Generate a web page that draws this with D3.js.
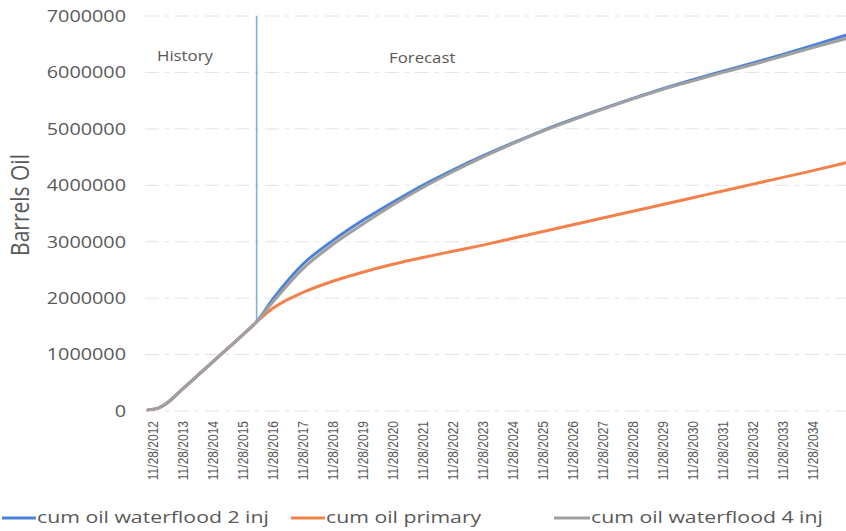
<!DOCTYPE html>
<html>
<head>
<meta charset="utf-8">
<script src="https://cdn.jsdelivr.net/npm/d3@7/dist/d3.min.js"></script>
<style>
  html, body { margin: 0; padding: 0; background: #fff; }
  svg { display: block; font-family: "Open Sans", "Noto Sans", sans-serif; }
</style>
</head>
<body>
<svg id="chart" width="846" height="531"></svg>
<script>
// Shared production history (cumulative barrels)
const historyDates = ["2012-10-01", "2013-02-01", "2013-05-01", "2013-11-28", "2014-11-28", "2015-11-28", "2016-05-15"];
const historyValues = [20000, 50000, 120000, 390000, 870000, 1350000, 1580000];

// Forecast dates (yearly anniversaries plus final point)
const forecastDates = ["2016-05-15", "2016-11-28", "2017-11-28", "2018-11-28", "2019-11-28", "2020-11-28",
  "2021-11-28", "2022-11-28", "2023-11-28", "2024-11-28", "2025-11-28", "2026-11-28", "2027-11-28",
  "2028-11-28", "2029-11-28", "2030-11-28", "2031-11-28", "2032-11-28", "2033-11-28", "2034-11-28", "2036-01-05"];

const waterflood2 = [1580000, 1980000, 2600000, 3020000, 3380000, 3700000, 4000000, 4270000, 4520000, 4750000,
  4970000, 5170000, 5360000, 5540000, 5710000, 5870000, 6020000, 6170000, 6320000, 6480000, 6660000];
const primary = [1580000, 1820000, 2100000, 2300000, 2460000, 2600000, 2720000, 2830000, 2940000, 3060000,
  3180000, 3300000, 3420000, 3540000, 3660000, 3780000, 3900000, 4020000, 4140000, 4260000, 4400000];
const waterflood4 = [1580000, 1930000, 2520000, 2950000, 3310000, 3650000, 3960000, 4240000, 4500000, 4740000,
  4960000, 5160000, 5350000, 5530000, 5700000, 5850000, 6000000, 6140000, 6290000, 6440000, 6600000];

const tickLabels = ["11/28/2012", "11/28/2013", "11/28/2014", "11/28/2015", "11/28/2016", "11/28/2017",
  "11/28/2018", "11/28/2019", "11/28/2020", "11/28/2021", "11/28/2022", "11/28/2023", "11/28/2024",
  "11/28/2025", "11/28/2026", "11/28/2027", "11/28/2028", "11/28/2029", "11/28/2030", "11/28/2031",
  "11/28/2032", "11/28/2033", "11/28/2034"];
const yTicks = [0, 1000000, 2000000, 3000000, 4000000, 5000000, 6000000, 7000000];

const seriesNames = ["cum oil waterflood 2 inj", "cum oil primary", "cum oil waterflood 4 inj"];
const seriesColors = ["#4c83d8", "#f2814c", "#a0a0a0"];

const parse = d3.timeParse("%Y-%m-%d");
const parseTick = d3.timeParse("%m/%d/%Y");

const svg = d3.select("#chart");
const W = 846, H = 531;
const stretch = 1.2;   // glyphs are drawn slightly wide

const x = d3.scaleTime()
  .domain([parse("2012-10-01"), parse("2036-01-05")])
  .range([148, 846]);
const y = d3.scaleLinear().domain([0, 7000000]).range([411, 16]);

const textColor = "#595959";

// Horizontal gridlines
svg.append("g").selectAll("line").data(yTicks).join("line")
  .attr("x1", 145).attr("x2", W)
  .attr("y1", d => y(d)).attr("y2", d => y(d))
  .attr("stroke", "#e2e2e2").attr("stroke-width", 1)
  .attr("stroke-dasharray", "14 6 4 6");

// Y axis labels
const yAxis = d3.axisLeft(y).tickValues(yTicks).tickSize(0).tickPadding(0).tickFormat(d3.format("d"));
const gy = svg.append("g").attr("transform", "translate(126,0)").call(yAxis);
gy.select(".domain").remove();
gy.selectAll("text")
  .attr("fill", textColor).attr("font-size", 16.5)
  .attr("font-family", "'Open Sans', sans-serif")
  .attr("x", 0)
  .attr("transform", `scale(${stretch},1)`);

// Y axis title
svg.append("text")
  .attr("transform", `translate(29,205) rotate(-90) scale(1,${stretch})`)
  .attr("text-anchor", "middle")
  .attr("fill", textColor).attr("font-size", 21)
  .text("Barrels Oil");

// X axis tick labels
const tickDates = tickLabels.map(parseTick);
const xAxis = d3.axisBottom(x).tickValues(tickDates).tickSize(0).tickPadding(0)
  .tickFormat((d, i) => tickLabels[i]);
const gx = svg.append("g").attr("transform", "translate(0,421)").call(xAxis);
gx.select(".domain").remove();
gx.selectAll("text")
  .attr("fill", textColor).attr("font-size", 12)
  .attr("text-anchor", "end")
  .attr("dy", "0.35em")
  .attr("x", 0).attr("y", 0)
  .attr("transform", `rotate(-90) scale(1,${stretch})`);

// History / forecast divider
const histEnd = parse(historyDates[historyDates.length - 1]);
svg.append("line")
  .attr("x1", x(histEnd)).attr("x2", x(histEnd))
  .attr("y1", y(7000000)).attr("y2", y(historyValues[historyValues.length - 1]))
  .attr("stroke", "#79b4d6").attr("stroke-width", 1.6);

svg.append("text").attr("transform", `translate(157,61) scale(${stretch},1)`)
  .attr("fill", textColor).attr("font-size", 14).text("History");
svg.append("text").attr("transform", `translate(389,63) scale(${stretch},1)`)
  .attr("fill", textColor).attr("font-size", 14).text("Forecast");

// Series lines
const line = d3.line().x(d => x(d[0])).y(d => y(d[1])).curve(d3.curveMonotoneX);
const hist = historyDates.map((d, i) => [parse(d), historyValues[i]]);
const seriesValues = [waterflood2, primary, waterflood4];
seriesValues.forEach((vals, k) => {
  const pts = hist.slice(0, -1).concat(forecastDates.map((d, i) => [parse(d), vals[i]]));
  svg.append("path").datum(pts)
    .attr("d", line)
    .attr("fill", "none")
    .attr("stroke", seriesColors[k])
    .attr("stroke-width", 3)
    .attr("stroke-linejoin", "round")
    .attr("stroke-linecap", "round");
});

// Legend
const legendItems = [
  { x: 2, w: 34 },
  { x: 291, w: 34 },
  { x: 554, w: 36 }
];
const lg = svg.append("g");
seriesNames.forEach((name, i) => {
  const it = legendItems[i];
  lg.append("line").attr("x1", it.x).attr("x2", it.x + it.w)
    .attr("y1", 518).attr("y2", 518)
    .attr("stroke", seriesColors[i]).attr("stroke-width", 3);
  lg.append("text").attr("transform", `translate(${it.x + it.w + 1},523) scale(1.25,1)`)
    .attr("fill", textColor).attr("font-size", 17).text(name);
});
</script>
</body>
</html>
